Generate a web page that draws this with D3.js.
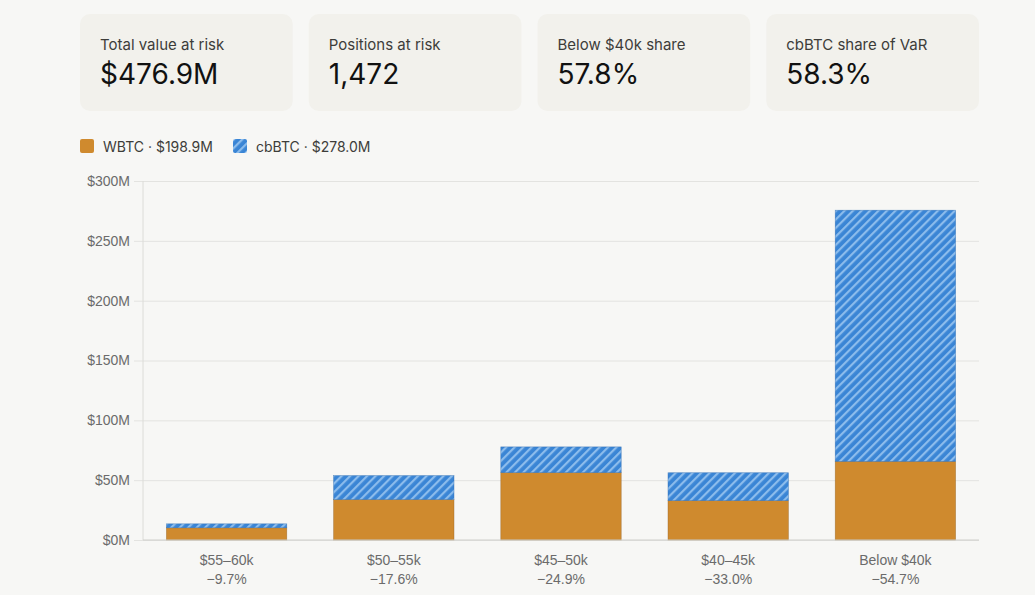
<!DOCTYPE html>
<html>
<head>
<meta charset="utf-8">
<script src="https://cdn.jsdelivr.net/npm/d3@7"></script>
<style>
  body { margin: 0; background: #f7f7f5; }
  svg { display: block; }
</style>
</head>
<body>
<svg id="chart" width="1035" height="595"></svg>
<script>
// Price buckets and the value at risk in each (millions of USD)
const buckets = ["$55–60k", "$50–55k", "$45–50k", "$40–45k", "Below $40k"];
const drops = ["−9.7%", "−17.6%", "−24.9%", "−33.0%", "−54.7%"];
const wbtc = [10.2, 33.8, 56.3, 32.9, 65.7];
const cbbtc = [3.3, 20.0, 21.5, 23.3, 209.9];
const yTicks = [0, 50, 100, 150, 200, 250, 300];

const cardLabels = ["Total value at risk", "Positions at risk", "Below $40k share", "cbBTC share of VaR"];
const cardValues = ["$476.9M", "1,472", "57.8%", "58.3%"];
const legendLabels = ["WBTC · $198.9M", "cbBTC · $278.0M"];

const orange = "#cf8a2e";
const blue = "#3a85d5";
const font = "Inter, 'Noto Sans', sans-serif";
const axisFont = "'Liberation Sans', Arial, sans-serif";

const svg = d3.select("#chart");

// hatch pattern for cbBTC
const defs = svg.append("defs");
const pat = defs.append("pattern")
    .attr("id", "hatch")
    .attr("patternUnits", "userSpaceOnUse")
    .attr("width", 6)
    .attr("height", 6)
    .attr("patternTransform", "rotate(45)");
pat.append("rect").attr("width", 6).attr("height", 6).attr("fill", blue);
pat.append("rect").attr("x", 0).attr("width", 2.2).attr("height", 6).attr("fill", "#8cbcec");

// KPI cards
const cards = svg.append("g");
const cardX = d3.scaleBand().domain(d3.range(4)).range([80, 979]).paddingInner(0.07);
cardLabels.forEach((lab, i) => {
    const g = cards.append("g").attr("transform", `translate(${cardX(i)},14)`);
    g.append("rect")
        .attr("width", cardX.bandwidth()).attr("height", 97)
        .attr("rx", 10)
        .attr("fill", "#f2f1ec");
    g.append("text")
        .attr("x", 20).attr("y", 36)
        .text(lab)
        .style("font-family", font)
        .style("font-size", "15px")
        .style("fill", "#3d3d3a");
    g.append("text")
        .attr("x", 20).attr("y", 70)
        .text(cardValues[i])
        .style("font-family", font)
        .style("font-size", "28px")
        .style("fill", "#111");
});

// Legend
const legend = svg.append("g").attr("transform", "translate(80,139)");
const legendX = [0, 153];
legendLabels.forEach((lab, i) => {
    legend.append("rect")
        .attr("x", legendX[i]).attr("y", 0)
        .attr("width", 14).attr("height", 14)
        .attr("rx", 2)
        .attr("fill", i === 0 ? orange : "url(#hatch)");
    legend.append("text")
        .attr("x", legendX[i] + 23).attr("y", 12.5)
        .text(lab)
        .style("font-family", font)
        .style("font-size", "14px")
        .style("fill", "#3d3d3a");
});

// Chart
const margin = { top: 181, right: 56, bottom: 55, left: 143 };
const width = 1035 - margin.left - margin.right;
const height = 595 - margin.top - margin.bottom;

const g = svg.append("g").attr("transform", `translate(${margin.left},${margin.top})`);

const x = d3.scaleBand().domain(buckets).range([0, width]).paddingInner(0.28).paddingOuter(0.14);
const y = d3.scaleLinear().domain([0, 300]).range([height, 0]);

// gridlines + y labels
const yAxis = g.append("g")
    .call(d3.axisLeft(y).tickValues(yTicks).tickSize(-width - 9).tickPadding(4).tickFormat(d => `$${d}M`))
    .attr("transform", "translate(-9,0)");
yAxis.select(".domain").remove();
yAxis.selectAll(".tick line").attr("stroke", "#e3e3e0");
yAxis.selectAll(".tick text")
    .style("font-family", axisFont)
    .style("font-size", "14px")
    .style("fill", "#6b6b6b");

// left axis line
g.append("line")
    .attr("x1", 0).attr("x2", 0)
    .attr("y1", y(300)).attr("y2", height)
    .attr("stroke", "#dcdcd8");

const stackData = buckets.map((b, i) => ({ bucket: b, wbtc: wbtc[i], cbbtc: cbbtc[i] }));
const series = d3.stack().keys(["wbtc", "cbbtc"])(stackData);

g.selectAll(".layer")
    .data(series)
    .enter()
    .append("g")
    .attr("class", "layer")
    .selectAll("rect")
    .data(d => d.map(v => Object.assign(v, { key: d.key })))
    .enter()
    .append("rect")
    .attr("x", d => x(d.data.bucket))
    .attr("y", d => y(d[1]))
    .attr("width", x.bandwidth())
    .attr("height", d => y(d[0]) - y(d[1]))
    .attr("fill", d => d.key === "wbtc" ? orange : "url(#hatch)")
    .attr("stroke", d => d.key === "wbtc" ? "#9a6a2c" : "#2f6cb0")
    .attr("stroke-width", 0.6)
    .attr("stroke-opacity", 0.7);

// baseline
g.append("line")
    .attr("x1", 0).attr("x2", width)
    .attr("y1", height).attr("y2", height)
    .attr("stroke", "#cfcfcb");

// x labels
const xl = g.append("g").attr("transform", `translate(0,${height})`);
buckets.forEach((b, i) => {
    const cx = x(b) + x.bandwidth() / 2;
    xl.append("text")
        .attr("x", cx).attr("y", 25)
        .attr("text-anchor", "middle")
        .text(b)
        .style("font-family", axisFont)
        .style("font-size", "14px")
        .style("fill", "#6b6b6b");
    xl.append("text")
        .attr("x", cx).attr("y", 44)
        .attr("text-anchor", "middle")
        .text(drops[i])
        .style("font-family", axisFont)
        .style("font-size", "14px")
        .style("fill", "#6b6b6b");
});
</script>
</body>
</html>
